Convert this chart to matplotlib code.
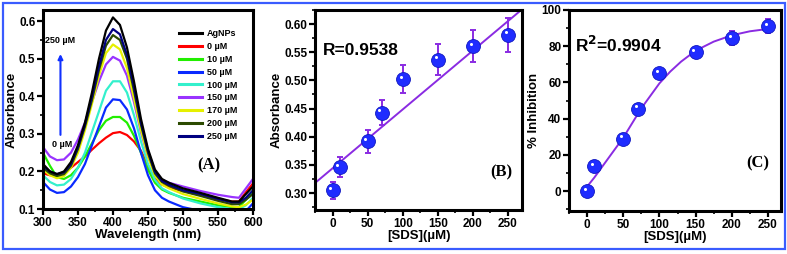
import matplotlib
matplotlib.use("Agg")
import matplotlib.pyplot as plt
import matplotlib.transforms as mtransforms
from matplotlib.patches import Rectangle
from matplotlib.ticker import MultipleLocator

plt.rcParams['font.family'] = ['Liberation Sans Narrow', 'Liberation Sans', 'DejaVu Sans']
plt.rcParams['font.weight'] = 'bold'

# ---- panel A: UV-vis spectra ----
wavelength = [300, 310, 320, 330, 340, 350, 360, 370, 380, 390, 400, 410, 420, 430,
              440, 450, 460, 470, 480, 500, 525, 550, 570, 580, 590, 600]
spec_agnps = [0.22, 0.20, 0.193, 0.20, 0.225, 0.27, 0.33, 0.41, 0.50, 0.575, 0.61, 0.59, 0.53, 0.44,
              0.34, 0.26, 0.205, 0.18, 0.17, 0.155, 0.143, 0.13, 0.12, 0.12, 0.14, 0.16]
spec_0 = [0.195, 0.19, 0.19, 0.197, 0.21, 0.225, 0.24, 0.258, 0.275, 0.29, 0.302, 0.305, 0.297, 0.28,
          0.255, 0.215, 0.18, 0.165, 0.158, 0.148, 0.137, 0.127, 0.12, 0.12, 0.145, 0.168]
spec_10 = [0.25, 0.215, 0.185, 0.18, 0.19, 0.21, 0.24, 0.275, 0.31, 0.335, 0.345, 0.345, 0.33, 0.295,
           0.25, 0.205, 0.17, 0.152, 0.143, 0.13, 0.12, 0.11, 0.105, 0.105, 0.125, 0.145]
spec_50 = [0.172, 0.152, 0.143, 0.145, 0.16, 0.185, 0.22, 0.27, 0.32, 0.37, 0.392, 0.39, 0.365, 0.315,
           0.25, 0.19, 0.15, 0.13, 0.12, 0.105, 0.095, 0.088, 0.085, 0.085, 0.095, 0.115]
spec_100 = [0.19, 0.172, 0.163, 0.165, 0.18, 0.21, 0.25, 0.305, 0.36, 0.415, 0.44, 0.44, 0.41, 0.35,
            0.28, 0.22, 0.178, 0.155, 0.145, 0.128, 0.115, 0.105, 0.10, 0.10, 0.11, 0.13]
spec_150 = [0.265, 0.24, 0.23, 0.232, 0.25, 0.285, 0.33, 0.385, 0.44, 0.485, 0.505, 0.495, 0.455, 0.385,
            0.305, 0.24, 0.195, 0.178, 0.17, 0.16, 0.148, 0.138, 0.132, 0.13, 0.155, 0.18]
spec_170 = [0.205, 0.19, 0.182, 0.188, 0.21, 0.25, 0.31, 0.38, 0.455, 0.515, 0.538, 0.525, 0.475, 0.395,
            0.31, 0.24, 0.19, 0.165, 0.155, 0.14, 0.127, 0.115, 0.107, 0.105, 0.112, 0.125]
spec_200 = [0.21, 0.195, 0.188, 0.193, 0.215, 0.26, 0.32, 0.39, 0.47, 0.535, 0.563, 0.55, 0.50, 0.415,
            0.325, 0.25, 0.195, 0.172, 0.162, 0.147, 0.135, 0.122, 0.113, 0.113, 0.125, 0.14]
spec_250 = [0.215, 0.20, 0.193, 0.198, 0.22, 0.265, 0.325, 0.40, 0.48, 0.55, 0.579, 0.565, 0.51, 0.425,
            0.33, 0.255, 0.20, 0.175, 0.165, 0.15, 0.14, 0.127, 0.118, 0.118, 0.13, 0.15]
spec_labels = ['AgNPs', '0 µM', '10 µM', '50 µM', '100 µM', '150 µM', '170 µM', '200 µM', '250 µM']
spec_colors = ['black', '#ff0000', '#22ee00', '#0a2aff', '#33f0cc', '#9933ff', '#e6f000', '#2b4a00', '#000080']

# ---- panel B: absorbance vs SDS ----
sds = [0, 10, 50, 70, 100, 150, 200, 250]
absorb = [0.305, 0.346, 0.392, 0.443, 0.502, 0.537, 0.561, 0.581]
absorb_err = [0.015, 0.018, 0.02, 0.022, 0.025, 0.028, 0.028, 0.03]
fit_b_x = [-25, 270]
fit_b_y = [0.318, 0.626]

# ---- panel C: % inhibition vs SDS ----
inhib = [0.0, 14.0, 29.0, 45.5, 65.0, 76.5, 84.5, 91.0]
inhib_err = [1.5, 2.5, 2.5, 2.5, 2.0, 3.0, 4.0, 4.0]
fit_c_x = [0, 10, 20, 30, 40, 50, 60, 70, 80, 90, 100, 115, 130, 150, 175, 200, 225, 250]
fit_c_y = [2.5, 7.5, 13.0, 18.5, 24.0, 29.5, 36.0, 42.5, 48.5, 54.0, 59.5, 66.0, 71.5,
           77.5, 82.5, 86.0, 88.2, 89.5]

purple = '#8a2be2'
ball = '#1f2cff'

fig = plt.figure(figsize=(7.87, 2.54), dpi=100)
fig.patches.append(Rectangle((0.004, 0.018), 0.993, 0.97, transform=fig.transFigure,
                             fill=False, edgecolor='#3a5cff', linewidth=1.6))


def style_axes(ax):
    for sp in ax.spines.values():
        sp.set_linewidth(2.2)
    ax.tick_params(which='major', direction='out', length=4, width=1.6, labelsize=8.5, pad=1.5)
    ax.tick_params(which='minor', direction='out', length=2.5, width=1.2)
    ax.tick_params(top=False, right=False)
    for lab in ax.get_xticklabels() + ax.get_yticklabels():
        lab.set_fontweight('bold')


# panel A
axA = fig.add_axes([0.0546, 0.177, 0.2668, 0.784])
spectra = [spec_agnps, spec_0, spec_10, spec_50, spec_100, spec_150, spec_170, spec_200, spec_250]
order = [1, 2, 3, 4, 5, 6, 7, 8, 0]
lines = {}
for i in order:
    ln, = axA.plot(wavelength, spectra[i], color=spec_colors[i], lw=1.6, label=spec_labels[i])
    lines[i] = ln
axA.set_xlim(300, 600)
axA.set_ylim(0.1, 0.63)
axA.xaxis.set_major_locator(MultipleLocator(50))
axA.xaxis.set_minor_locator(MultipleLocator(25))
axA.yaxis.set_minor_locator(MultipleLocator(0.05))
axA.set_yticks([0.1, 0.2, 0.3, 0.4, 0.5, 0.6])
axA.set_yticklabels(['0.1', '0.2', '0.3', '0.4', '0.5', '0.6'])
axA.set_xlabel('Wavelength (nm)', fontsize=9.5, fontweight='bold', labelpad=0)
axA.set_ylabel('Absorbance', fontsize=9.5, fontweight='bold', labelpad=1)
style_axes(axA)
leg = axA.legend([lines[i] for i in range(9)], spec_labels, loc='upper left',
                 bbox_to_anchor=(0.63, 0.92), frameon=False, fontsize=6.5,
                 handlelength=2.6, handletextpad=0.5, labelspacing=0.42, borderaxespad=0)
for t in leg.get_texts():
    t.set_fontweight('bold')
for h in leg.get_lines():
    h.set_linewidth(2.2)
axA.annotate('', xy=(325, 0.52), xytext=(325, 0.29),
             arrowprops=dict(arrowstyle='-|>', color='#1030ff', lw=1.5, mutation_scale=7))
axA.text(325, 0.548, '250 µM', ha='center', va='center', fontsize=6.5, fontweight='bold')
axA.text(327, 0.272, '0 µM', ha='center', va='center', fontsize=6.5, fontweight='bold')
axA.text(537, 0.215, '(A)', ha='center', va='center', fontsize=12, fontweight='bold',
         family='Liberation Serif')


def balls(ax, x, y):
    ax.plot(x, y, 'o', ms=10, color=ball, mec='#1018c0', mew=0.6, zorder=4)
    off = mtransforms.ScaledTranslation(-1.6 / 72, 1.6 / 72, fig.dpi_scale_trans)
    ax.plot(x, y, 'o', ms=2.2, color='white', mew=0, zorder=5,
            transform=ax.transData + off)


# panel B
axB = fig.add_axes([0.4003, 0.173, 0.263, 0.788])
axB.plot(fit_b_x, fit_b_y, color=purple, lw=1.4, zorder=2)
axB.errorbar(sds, absorb, yerr=absorb_err, fmt='none', ecolor=purple, elinewidth=1.4,
             capsize=2.5, capthick=1.4, zorder=3)
balls(axB, sds, absorb)
axB.set_xlim(-25, 270)
axB.set_ylim(0.27, 0.625)
axB.xaxis.set_major_locator(MultipleLocator(50))
axB.xaxis.set_minor_locator(MultipleLocator(25))
axB.yaxis.set_major_locator(MultipleLocator(0.05))
axB.yaxis.set_minor_locator(MultipleLocator(0.025))
axB.yaxis.set_major_formatter(plt.FormatStrFormatter('%.2f'))
axB.set_xlabel('[SDS](µM)', fontsize=9.5, fontweight='bold', labelpad=0)
axB.set_ylabel('Absorbance', fontsize=9.5, fontweight='bold', labelpad=1)
style_axes(axB)
axB.text(-14, 0.553, 'R=0.9538', ha='left', va='center', fontsize=12.5, fontweight='bold')
axB.text(241, 0.337, '(B)', ha='center', va='center', fontsize=12, fontweight='bold',
         family='Liberation Serif')

# panel C
axC = fig.add_axes([0.723, 0.169, 0.2694, 0.792])
axC.plot(fit_c_x, fit_c_y, color=purple, lw=1.4, zorder=2)
axC.errorbar(sds, inhib, yerr=inhib_err, fmt='none', ecolor=purple, elinewidth=1.4,
             capsize=2.5, capthick=1.4, zorder=3)
balls(axC, sds, inhib)
axC.set_xlim(-25, 268)
axC.set_ylim(-11, 100)
axC.xaxis.set_major_locator(MultipleLocator(50))
axC.xaxis.set_minor_locator(MultipleLocator(25))
axC.yaxis.set_major_locator(MultipleLocator(20))
axC.yaxis.set_minor_locator(MultipleLocator(10))
axC.set_xlabel('[SDS](µM)', fontsize=9.5, fontweight='bold', labelpad=0)
axC.set_ylabel('% Inhibition', fontsize=9.5, fontweight='bold', labelpad=1)
style_axes(axC)
axC.text(-17, 80.5, r'R$^\mathbf{2}$=0.9904', ha='left', va='center', fontsize=12.5,
         fontweight='bold')
axC.text(236, 15.5, '(C)', ha='center', va='center', fontsize=12, fontweight='bold',
         family='Liberation Serif')

fig.savefig('out.png', dpi=100)
